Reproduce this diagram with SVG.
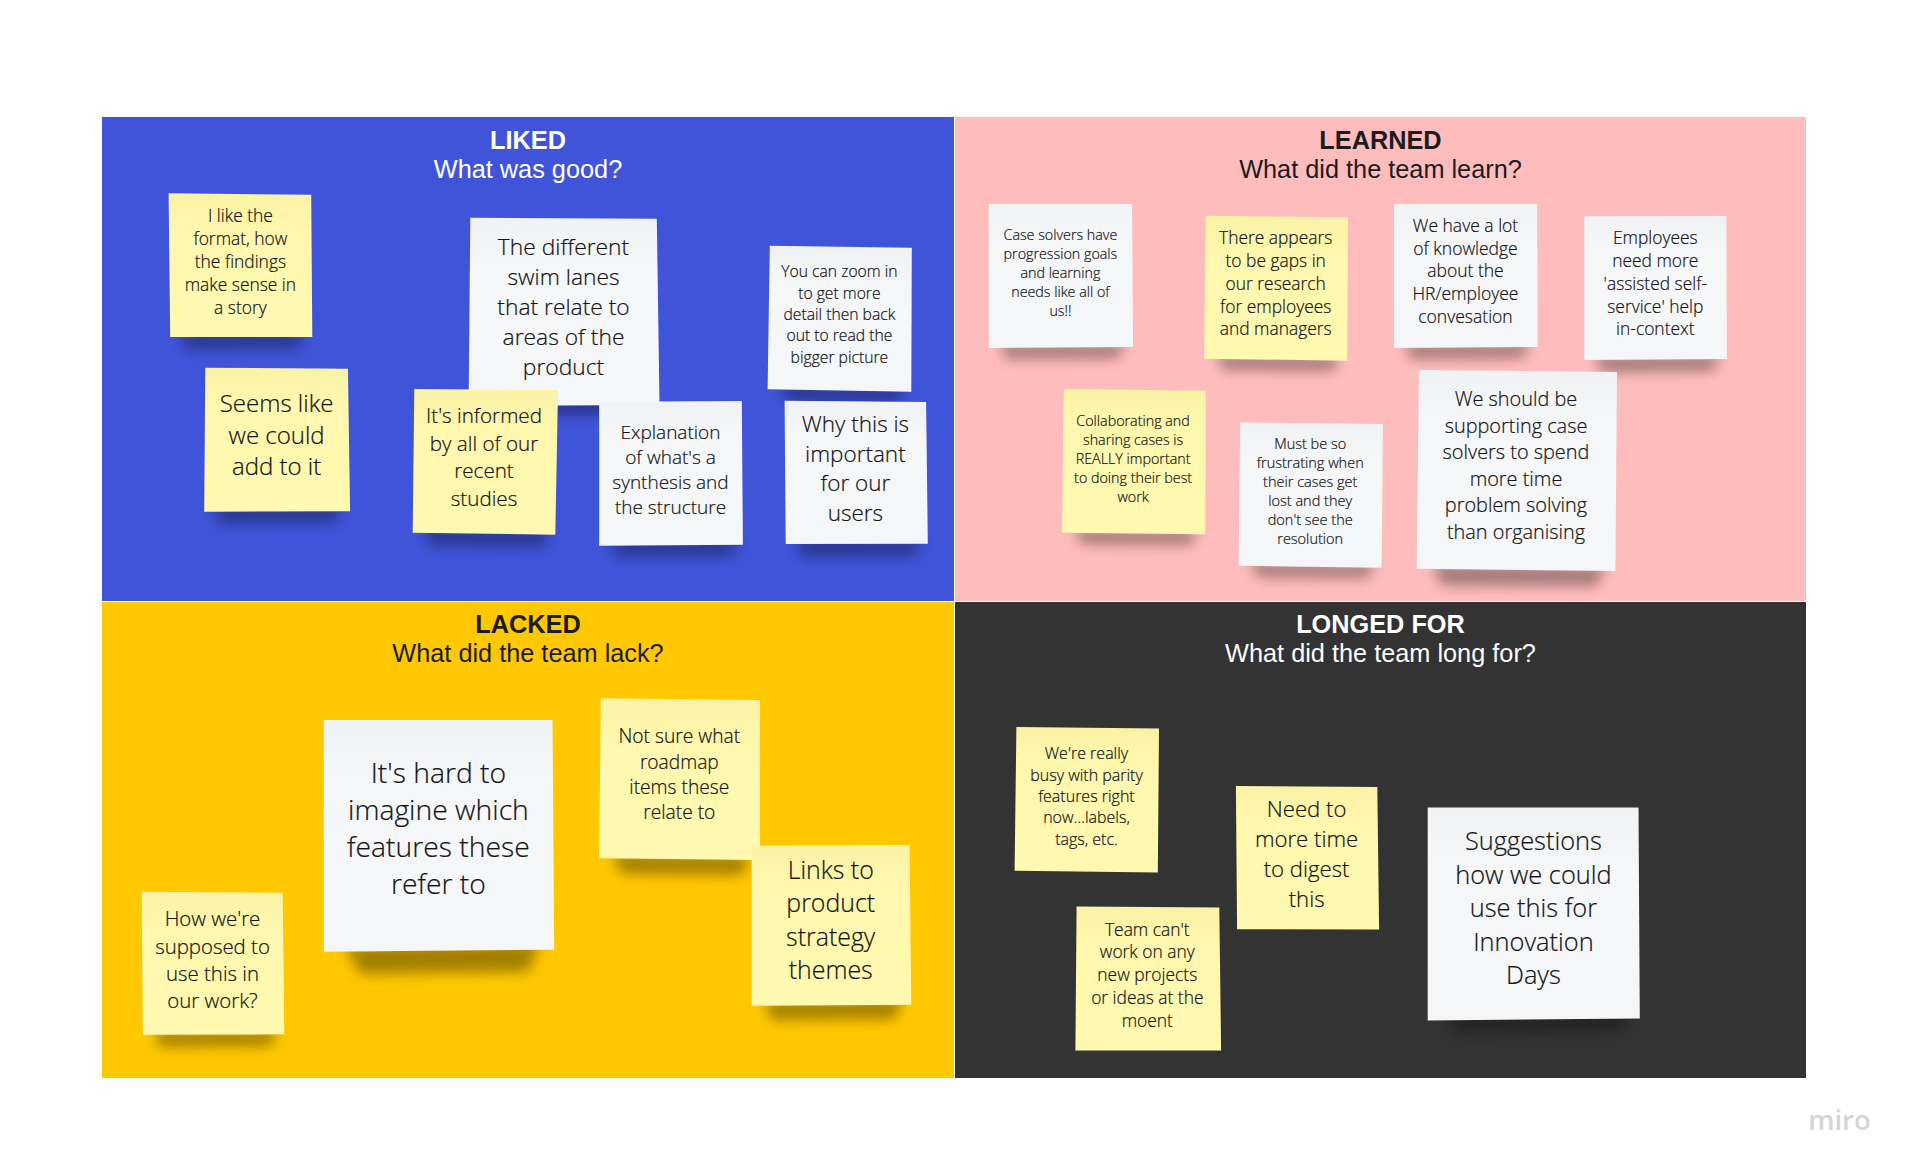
<svg xmlns="http://www.w3.org/2000/svg" width="1914" height="1175" viewBox="0 0 1914 1175">
<style>
.t{font-family:"Open Sans","Liberation Sans",sans-serif;font-weight:300;text-anchor:middle;fill:#141414;stroke:#141414;stroke-width:.2px;transform:translateY(1.5px)}
.h{font-family:"Liberation Sans",Arial,sans-serif;text-anchor:middle;font-size:25.3px}
.b{font-weight:700}
.y{fill:url(#gy)}
.w{fill:url(#gw)}
.s{fill:#000;opacity:.36;filter:url(#blur)}
</style>
<defs>
<filter id="blur" x="-20%" y="-150%" width="140%" height="400%"><feGaussianBlur stdDeviation="6.5"/></filter>
<linearGradient id="gy" x1="0" y1="0" x2="0" y2="1"><stop offset="0" stop-color="#faf3a6"/><stop offset=".3" stop-color="#fff8ae"/><stop offset="1" stop-color="#fff9b1"/></linearGradient>
<linearGradient id="gw" x1="0" y1="0" x2="0" y2="1"><stop offset="0" stop-color="#f1f2f4"/><stop offset=".3" stop-color="#f6f7f9"/><stop offset="1" stop-color="#f5f6f8"/></linearGradient>
</defs>
<rect width="1914" height="1175" fill="#fff"/>
<g id="panels">
<rect x="102" y="117" width="852" height="484" fill="#3f54d9"/>
<rect x="955" y="117" width="851" height="484" fill="#ffbcbc"/>
<rect x="102" y="602" width="852" height="476" fill="#ffc800"/>
<rect x="955" y="602" width="851" height="476" fill="#333"/>
</g>
<g id="titles">
<text class="h b" x="528" y="149" fill="#fff">LIKED</text><text class="h" x="528" y="178" fill="#fff">What was good?</text>
<text class="h b" x="1380.5" y="149" fill="#1c1c1c">LEARNED</text><text class="h" x="1380.5" y="178" fill="#1c1c1c">What did the team learn?</text>
<text class="h b" x="528" y="633" fill="#1c1c1c">LACKED</text><text class="h" x="528" y="662" fill="#1c1c1c">What did the team lack?</text>
<text class="h b" x="1380.5" y="633" fill="#fff">LONGED FOR</text><text class="h" x="1380.5" y="662" fill="#fff">What did the team long for?</text>
</g>
<g id="note-like-format">
<polygon class="s" points="180,333 305,333 298,348 186,349"/><polygon class="y" points="168.6,193.3 311.2,194.7 312.3,337 170.2,337"/>
<text class="t" font-size="17.4"><tspan x="240.4" y="220">I like the</tspan><tspan x="240.4" y="243">format, how</tspan><tspan x="240.4" y="266">the findings</tspan><tspan x="240.4" y="289">make sense in</tspan><tspan x="240.4" y="312">a story</tspan></text>
</g>
<g id="note-seems-like">
<polygon class="s" points="214,507 342,507 335,522 220,523"/><polygon class="y" points="205.3,367.7 347.9,368.7 350.1,511.3 204.2,511.7"/>
<text class="t" font-size="24"><tspan x="276.6" y="410.5">Seems like</tspan><tspan x="276.6" y="442">we could</tspan><tspan x="276.6" y="473">add to it</tspan></text>
</g>
<g id="note-swim-lanes">
<polygon class="s" points="480,398 650,398 645,414 490,415"/><polygon class="w" points="470.3,217.7 656.8,218.7 659.5,405 468.6,406"/>
<text class="t" font-size="22.8"><tspan x="563.5" y="253">The different</tspan><tspan x="563.5" y="283">swim lanes</tspan><tspan x="563.5" y="313">that relate to</tspan><tspan x="563.5" y="343">areas of the</tspan><tspan x="563.5" y="373">product</tspan></text>
</g>
<g id="note-informed">
<polygon class="s" points="424,529 550,531 543,546 430,545"/><polygon class="y" points="414.3,389 558,390 555.3,534.7 412.7,532.7"/>
<text class="t" font-size="20.6"><tspan x="484" y="421.5">It's informed</tspan><tspan x="484" y="449">by all of our</tspan><tspan x="484" y="476.5">recent</tspan><tspan x="484" y="504">studies</tspan></text>
</g>
<g id="note-explanation">
<polygon class="s" points="610,541 738,540 732,555 616,556"/><polygon class="w" points="599.2,401.7 741.8,401 742.9,544.7 599.2,545.7"/>
<text class="t" font-size="19"><tspan x="670.5" y="437">Explanation</tspan><tspan x="670.5" y="462">of what's a</tspan><tspan x="670.5" y="487">synthesis and</tspan><tspan x="670.5" y="512">the structure</tspan></text>
</g>
<g id="note-zoom">
<polygon class="s" points="780,386 905,388 898,402 788,401"/><polygon class="w" points="769.8,245.7 911.8,247.7 911.3,391.7 767.6,389.3"/>
<text class="t" font-size="15.7"><tspan x="839.4" y="275">You can zoom in</tspan><tspan x="839.4" y="297">to get more</tspan><tspan x="839.4" y="318">detail then back</tspan><tspan x="839.4" y="339">out to read the</tspan><tspan x="839.4" y="361">bigger picture</tspan></text>
</g>
<g id="note-why">
<polygon class="s" points="796,540 922,540 915,555 802,556"/><polygon class="w" points="784.6,400.7 926.1,402 927.8,543.7 785.7,544"/>
<text class="t" font-size="22.5"><tspan x="855.4" y="430">Why this is</tspan><tspan x="855.4" y="460">important</tspan><tspan x="855.4" y="489.5">for our</tspan><tspan x="855.4" y="519">users</tspan></text>
</g>
<g id="note-case-solvers">
<polygon class="s" points="1000,344 1125,343 1118,358 1006,359"/><polygon class="w" points="988.8,204 1132,204 1133.1,347 988.8,348"/>
<text class="t" font-size="14.3"><tspan x="1060.4" y="238">Case solvers have</tspan><tspan x="1060.4" y="257">progression goals</tspan><tspan x="1060.4" y="276">and learning</tspan><tspan x="1060.4" y="295">needs like all of</tspan><tspan x="1060.4" y="314">us!!</tspan></text>
</g>
<g id="note-gaps">
<polygon class="s" points="1216,355 1340,357 1333,371 1224,370"/><polygon class="y" points="1205.8,215.7 1347.9,217.3 1347.3,360.7 1204.2,358.7"/>
<text class="t" font-size="17.4"><tspan x="1275.7" y="242">There appears</tspan><tspan x="1275.7" y="265">to be gaps in</tspan><tspan x="1275.7" y="288">our research</tspan><tspan x="1275.7" y="311">for employees</tspan><tspan x="1275.7" y="333">and managers</tspan></text>
</g>
<g id="note-knowledge">
<polygon class="s" points="1405,344 1530,343 1523,358 1411,359"/><polygon class="w" points="1394,204 1537.1,204 1537.7,347 1394,348"/>
<text class="t" font-size="17.5"><tspan x="1465.5" y="230">We have a lot</tspan><tspan x="1465.5" y="253">of knowledge</tspan><tspan x="1465.5" y="275">about the</tspan><tspan x="1465.5" y="298">HR/employee</tspan><tspan x="1465.5" y="321">convesation</tspan></text>
</g>
<g id="note-employees">
<polygon class="s" points="1595,356 1720,356 1713,371 1601,372"/><polygon class="w" points="1584.3,216.3 1726.3,216 1726.9,359 1584.3,360"/>
<text class="t" font-size="17.4"><tspan x="1655.3" y="242">Employees</tspan><tspan x="1655.3" y="265">need more</tspan><tspan x="1655.3" y="288">'assisted self-</tspan><tspan x="1655.3" y="311">service' help</tspan><tspan x="1655.3" y="333">in-context</tspan></text>
</g>
<g id="note-collaborating">
<polygon class="s" points="1074,529 1198,531 1191,545 1082,544"/><polygon class="y" points="1063.8,389 1205.8,390.7 1205.3,534.3 1062.1,532.7"/>
<text class="t" font-size="14.3"><tspan x="1133.1" y="424">Collaborating and</tspan><tspan x="1133.1" y="443">sharing cases is</tspan><tspan x="1133.1" y="462">REALLY important</tspan><tspan x="1133.1" y="481">to doing their best</tspan><tspan x="1133.1" y="500">work</tspan></text>
</g>
<g id="note-frustrating">
<polygon class="s" points="1250,562 1375,564 1368,578 1258,577"/><polygon class="w" points="1240.2,422.3 1382.9,424 1381.7,567.7 1238.6,565.7"/>
<text class="t" font-size="14.5"><tspan x="1310.2" y="447">Must be so</tspan><tspan x="1310.2" y="466">frustrating when</tspan><tspan x="1310.2" y="485">their cases get</tspan><tspan x="1310.2" y="504">lost and they</tspan><tspan x="1310.2" y="523">don't see the</tspan><tspan x="1310.2" y="542">resolution</tspan></text>
</g>
<g id="note-supporting">
<polygon class="s" points="1432,565 1606,567 1596,586 1442,585"/><polygon class="w" points="1418.9,370 1617,372 1615.4,571 1416.7,568.7"/>
<text class="t" font-size="19.9"><tspan x="1516" y="404.5">We should be</tspan><tspan x="1516" y="431">supporting case</tspan><tspan x="1516" y="457.5">solvers to spend</tspan><tspan x="1516" y="484">more time</tspan><tspan x="1516" y="510.5">problem solving</tspan><tspan x="1516" y="537">than organising</tspan></text>
</g>
<g id="note-hard-imagine">
<polygon class="s" points="345,945 540,943 528,972 360,974"/><polygon class="w" points="323.8,720 552.5,720 554.2,949.7 323.8,951.7"/>
<text class="t" font-size="28.3"><tspan x="438.4" y="781">It's hard to</tspan><tspan x="438.4" y="818.5">imagine which</tspan><tspan x="438.4" y="855.5">features these</tspan><tspan x="438.4" y="892.5">refer to</tspan></text>
</g>
<g id="note-roadmap">
<polygon class="s" points="612,854 750,856 742,875 622,874"/><polygon class="y" points="600.8,698.3 759.9,700 759.9,860 599.2,858.3"/>
<text class="t" font-size="19.2"><tspan x="679.3" y="741.5">Not sure what</tspan><tspan x="679.3" y="767">roadmap</tspan><tspan x="679.3" y="792.5">items these</tspan><tspan x="679.3" y="817.5">relate to</tspan></text>
</g>
<g id="note-links">
<polygon class="s" points="764,1001 903,1000 895,1019 772,1020"/><polygon class="y" points="751.7,845.7 909.6,845 911.3,1004.7 751.7,1005.7"/>
<text class="t" font-size="24.9"><tspan x="830.7" y="877">Links to</tspan><tspan x="830.7" y="910.5">product</tspan><tspan x="830.7" y="944">strategy</tspan><tspan x="830.7" y="977">themes</tspan></text>
</g>
<g id="note-how">
<polygon class="s" points="154,1031 278,1031 271,1046 160,1047"/><polygon class="y" points="141.7,891.7 282.7,892.7 284.3,1034.3 142.8,1034.7"/>
<text class="t" font-size="20.4"><tspan x="212.5" y="924">How we're</tspan><tspan x="212.5" y="952">supposed to</tspan><tspan x="212.5" y="979">use this in</tspan><tspan x="212.5" y="1006.5">our work?</tspan></text>
</g>
<g id="note-parity">
<polygon class="y" points="1016.4,727.1 1159,728.6 1157.8,872.5 1014.6,870.7"/>
<text class="t" font-size="16"><tspan x="1086.5" y="757">We're really</tspan><tspan x="1086.5" y="779">busy with parity</tspan><tspan x="1086.5" y="800">features right</tspan><tspan x="1086.5" y="821">now...labels,</tspan><tspan x="1086.5" y="843">tags, etc.</tspan></text>
</g>
<g id="note-digest">
<polygon class="y" points="1235.9,786 1377.3,787.1 1379.1,929.6 1237.1,929.3"/>
<text class="t" font-size="22.2"><tspan x="1306.6" y="815.5">Need to</tspan><tspan x="1306.6" y="845.5">more time</tspan><tspan x="1306.6" y="875.5">to digest</tspan><tspan x="1306.6" y="905">this</tspan></text>
</g>
<g id="note-team-cant">
<polygon class="y" points="1076.6,906.4 1219.3,907.5 1221.1,1050.4 1075.4,1050.4"/>
<text class="t" font-size="17.4"><tspan x="1147.3" y="934">Team can't</tspan><tspan x="1147.3" y="956.5">work on any</tspan><tspan x="1147.3" y="979">new projects</tspan><tspan x="1147.3" y="1002">or ideas at the</tspan><tspan x="1147.3" y="1025">moent</tspan></text>
</g>
<g id="note-innovation">
<polygon class="s" points="1445,1014 1630,1013 1622,1030 1455,1032" style="opacity:.3"/><polygon class="w" points="1427.7,807.5 1638.5,807.5 1639.8,1018.6 1427.7,1020.4"/>
<text class="t" font-size="25.4"><tspan x="1533.4" y="848">Suggestions</tspan><tspan x="1533.4" y="882">how we could</tspan><tspan x="1533.4" y="915">use this for</tspan><tspan x="1533.4" y="949">Innovation</tspan><tspan x="1533.4" y="982.5">Days</tspan></text>
</g>
<text id="miro-mark" x="1839.5" y="1130" font-family="'Open Sans',sans-serif" font-size="27.5" font-weight="600" text-anchor="middle" fill="#d4d5d9">miro</text>
</svg>
